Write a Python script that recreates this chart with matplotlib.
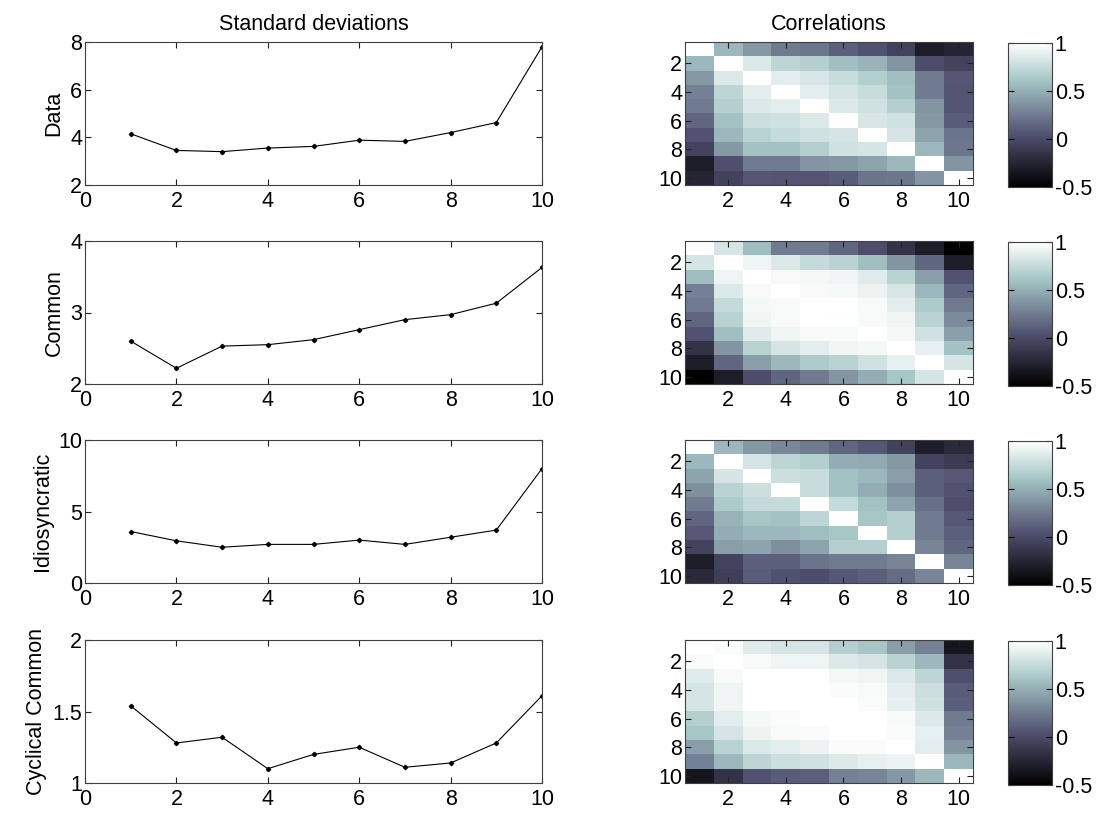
import numpy as np
import matplotlib
matplotlib.use("Agg")
import matplotlib.pyplot as plt

plt.rcParams["font.family"] = ["Liberation Sans", "DejaVu Sans"]
plt.rcParams["font.size"] = 15.5

horizons = list(range(1, 11))
row_labels = ["Data", "Common", "Idiosyncratic", "Cyclical Common"]

# standard deviations per horizon
std_data = [4.15, 3.45, 3.40, 3.55, 3.62, 3.88, 3.83, 4.20, 4.62, 7.80]
std_common = [2.60, 2.22, 2.53, 2.55, 2.62, 2.76, 2.90, 2.97, 3.13, 3.63]
std_idio = [3.60, 2.95, 2.50, 2.70, 2.70, 3.00, 2.70, 3.20, 3.70, 8.00]
std_cyc = [1.54, 1.28, 1.32, 1.10, 1.20, 1.25, 1.11, 1.14, 1.28, 1.61]

ylims = [(2, 8), (2, 4), (0, 10), (1, 2)]
yticks = [[2, 4, 6, 8], [2, 3, 4], [0, 5, 10], [1, 1.5, 2]]

# correlation matrices (rows/cols = horizons 1..10)
corr_data = [
    [1.00, 0.55, 0.40, 0.25, 0.23, 0.12, 0.05, -0.05, -0.30, -0.25],
    [0.55, 1.00, 0.85, 0.72, 0.68, 0.58, 0.53, 0.38, 0.02, -0.05],
    [0.40, 0.85, 1.00, 0.88, 0.83, 0.77, 0.67, 0.58, 0.25, 0.07],
    [0.28, 0.72, 0.88, 1.00, 0.88, 0.82, 0.77, 0.60, 0.25, 0.06],
    [0.25, 0.68, 0.85, 0.88, 1.00, 0.85, 0.80, 0.68, 0.38, 0.06],
    [0.15, 0.60, 0.78, 0.80, 0.85, 1.00, 0.83, 0.80, 0.40, 0.10],
    [0.05, 0.55, 0.70, 0.75, 0.80, 0.82, 1.00, 0.82, 0.45, 0.22],
    [-0.05, 0.40, 0.60, 0.60, 0.67, 0.80, 0.82, 1.00, 0.55, 0.23],
    [-0.30, 0.03, 0.25, 0.25, 0.38, 0.40, 0.45, 0.55, 1.00, 0.38],
    [-0.25, -0.05, 0.07, 0.06, 0.06, 0.10, 0.22, 0.23, 0.38, 1.00],
]
corr_common = [
    [1.00, 0.82, 0.57, 0.25, 0.25, 0.15, 0.02, -0.15, -0.30, -0.50],
    [0.82, 1.00, 0.93, 0.85, 0.75, 0.70, 0.58, 0.38, 0.15, -0.30],
    [0.57, 0.93, 1.00, 0.97, 0.95, 0.93, 0.87, 0.70, 0.42, 0.05],
    [0.28, 0.85, 0.97, 1.00, 0.97, 0.96, 0.92, 0.83, 0.55, 0.15],
    [0.25, 0.75, 0.95, 0.97, 1.00, 1.00, 0.97, 0.88, 0.65, 0.25],
    [0.15, 0.70, 0.93, 0.97, 1.00, 0.99, 0.97, 0.93, 0.70, 0.33],
    [0.05, 0.58, 0.87, 0.93, 0.97, 0.97, 1.00, 0.95, 0.80, 0.43],
    [-0.15, 0.38, 0.70, 0.82, 0.88, 0.93, 0.95, 1.00, 0.90, 0.60],
    [-0.30, 0.15, 0.42, 0.55, 0.65, 0.70, 0.80, 0.90, 1.00, 0.82],
    [-0.50, -0.30, 0.02, 0.15, 0.25, 0.38, 0.50, 0.62, 0.82, 1.00],
]
corr_idio = [
    [1.00, 0.55, 0.40, 0.32, 0.25, 0.15, 0.08, -0.05, -0.30, -0.22],
    [0.55, 1.00, 0.82, 0.72, 0.67, 0.50, 0.48, 0.40, -0.05, -0.10],
    [0.45, 0.82, 1.00, 0.78, 0.76, 0.60, 0.55, 0.42, 0.12, 0.08],
    [0.35, 0.70, 0.78, 1.00, 0.76, 0.60, 0.50, 0.35, 0.12, 0.05],
    [0.25, 0.65, 0.75, 0.75, 1.00, 0.75, 0.60, 0.45, 0.20, 0.02],
    [0.15, 0.52, 0.62, 0.60, 0.72, 1.00, 0.62, 0.68, 0.25, 0.08],
    [0.08, 0.50, 0.55, 0.55, 0.58, 0.62, 1.00, 0.68, 0.25, 0.12],
    [-0.05, 0.42, 0.45, 0.35, 0.45, 0.68, 0.68, 1.00, 0.30, 0.15],
    [-0.30, -0.05, 0.12, 0.12, 0.22, 0.25, 0.25, 0.30, 1.00, 0.30],
    [-0.22, -0.08, 0.10, 0.05, 0.02, 0.08, 0.12, 0.18, 0.30, 1.00],
]
corr_cyc = [
    [1.00, 0.98, 0.87, 0.82, 0.82, 0.68, 0.62, 0.42, 0.28, -0.35],
    [0.98, 1.00, 0.97, 0.93, 0.93, 0.85, 0.82, 0.70, 0.55, -0.15],
    [0.87, 0.97, 1.00, 1.00, 1.00, 0.95, 0.93, 0.85, 0.72, 0.03],
    [0.82, 0.93, 1.00, 1.00, 1.00, 0.98, 0.97, 0.88, 0.78, 0.10],
    [0.82, 0.93, 1.00, 1.00, 1.00, 1.00, 0.98, 0.90, 0.80, 0.12],
    [0.68, 0.88, 0.95, 0.98, 1.00, 1.00, 1.00, 0.97, 0.85, 0.25],
    [0.62, 0.82, 0.92, 0.97, 0.98, 1.00, 1.00, 0.98, 0.90, 0.28],
    [0.42, 0.70, 0.85, 0.88, 0.92, 0.98, 0.98, 1.00, 0.88, 0.38],
    [0.28, 0.55, 0.72, 0.78, 0.80, 0.85, 0.90, 0.92, 1.00, 0.55],
    [-0.35, -0.15, 0.05, 0.10, 0.12, 0.28, 0.30, 0.40, 0.55, 1.00],
]

stds = [std_data, std_common, std_idio, std_cyc]
corrs = [corr_data, corr_common, corr_idio, corr_cyc]

W, H = 1111, 814
fig = plt.figure(figsize=(W / 100, H / 100), dpi=100)

frame_color = "#404040"
fs = 15.5


def px_axes(x0, y0, x1, y1):
    return fig.add_axes([x0 / W, 1 - y1 / H, (x1 - x0) / W, (y1 - y0) / H])


def style(ax):
    ax.tick_params(direction="in", top=True, right=True, length=4,
                   width=0.8, color="#202020", labelsize=fs, pad=2)
    ax.tick_params(axis="x", pad=4)
    for s in ax.spines.values():
        s.set_color(frame_color)
        s.set_linewidth(0.8)


tops = [42, 241, 440, 640]
height = 143

for i in range(4):
    y0 = tops[i]
    y1 = y0 + height

    # left column: std dev line
    ax = px_axes(85, y0, 542, y1)
    ax.plot(horizons, stds[i], color="black", lw=0.8, marker="D", ms=2.2)
    ax.set_xlim(0, 10)
    ax.set_ylim(*ylims[i])
    ax.set_xticks([0, 2, 4, 6, 8, 10])
    ax.set_yticks(yticks[i])
    ax.set_yticklabels([f"{v:g}" for v in yticks[i]])
    ax.set_ylabel(row_labels[i], fontsize=fs, labelpad=4)
    style(ax)
    if i == 0:
        ax.set_title("Standard deviations", fontsize=fs, pad=9)

    # middle column: correlation heatmap
    hx = px_axes(685, y0, 973, y1)
    im = hx.imshow(np.array(corrs[i]), cmap="bone", vmin=-0.5, vmax=1,
                   aspect="auto", interpolation="nearest",
                   extent=(0.5, 10.5, 10.5, 0.5))
    hx.set_xticks([2, 4, 6, 8, 10])
    hx.set_yticks([2, 4, 6, 8, 10])
    style(hx)
    if i == 0:
        hx.set_title("Correlations", fontsize=fs, pad=9)

    # colorbar
    cx = px_axes(1008, y0 + 1, 1052, y1 + 2)
    cb = fig.colorbar(im, cax=cx, ticks=[-0.5, 0, 0.5, 1])
    cb.ax.set_yticklabels(["-0.5", "0", "0.5", "1"])
    cb.outline.set_edgecolor(frame_color)
    cb.outline.set_linewidth(0.8)
    cx.tick_params(direction="in", left=True, right=True, length=4,
                   width=0.8, labelsize=fs, pad=2)

fig.savefig("out.png", dpi=100)
